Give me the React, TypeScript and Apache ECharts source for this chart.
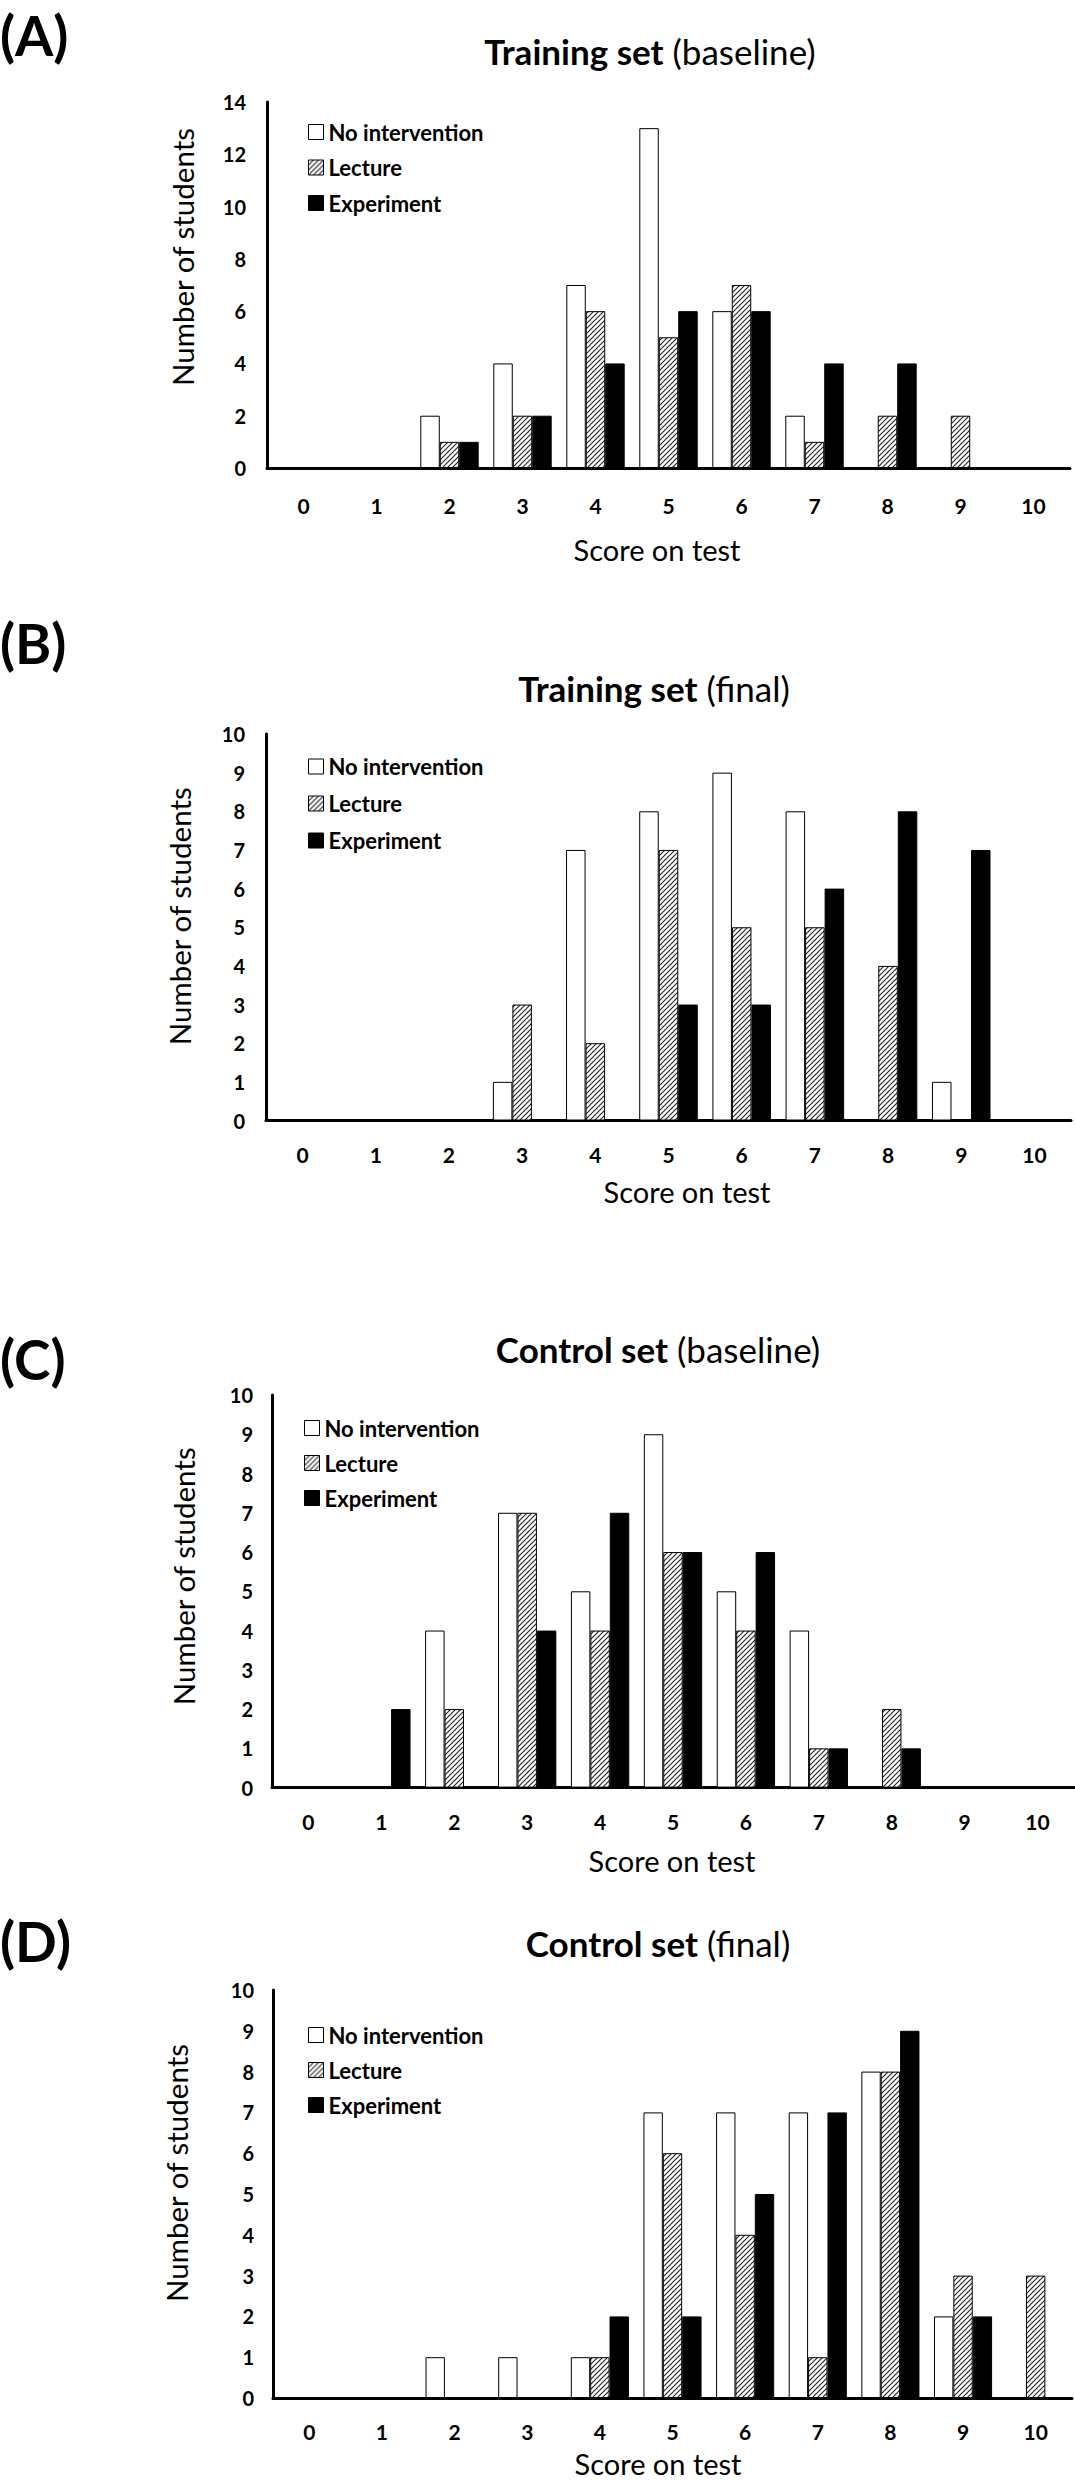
import React, { useEffect, useRef } from "react";
import * as echarts from "echarts";

// ---------- data ----------
const scores = ["0", "1", "2", "3", "4", "5", "6", "7", "8", "9", "10"];
const groupNames = ["No intervention", "Lecture", "Experiment"];

const trainBaseNone = [0, 0, 2, 4, 7, 13, 6, 2, 0, 0, 0];
const trainBaseLecture = [0, 0, 1, 2, 6, 5, 7, 1, 2, 2, 0];
const trainBaseExperiment = [0, 0, 1, 2, 4, 6, 6, 4, 4, 0, 0];

const trainFinalNone = [0, 0, 0, 1, 7, 8, 9, 8, 0, 1, 0];
const trainFinalLecture = [0, 0, 0, 3, 2, 7, 5, 5, 4, 0, 0];
const trainFinalExperiment = [0, 0, 0, 0, 0, 3, 3, 6, 8, 7, 0];

const ctrlBaseNone = [0, 0, 4, 7, 5, 9, 5, 4, 0, 0, 0];
const ctrlBaseLecture = [0, 0, 2, 7, 4, 6, 4, 1, 2, 0, 0];
const ctrlBaseExperiment = [0, 2, 0, 4, 7, 6, 6, 1, 1, 0, 0];

const ctrlFinalNone = [0, 0, 1, 1, 1, 7, 7, 7, 8, 2, 0];
const ctrlFinalLecture = [0, 0, 0, 0, 1, 6, 4, 1, 8, 3, 3];
const ctrlFinalExperiment = [0, 0, 0, 0, 2, 2, 5, 7, 9, 2, 0];

const panelLabels = ["(A)", "(B)", "(C)", "(D)"];
const titleBold = ["Training set", "Training set", "Control set", "Control set"];
const titleNormal = ["(baseline)", "(final)", "(baseline)", "(final)"];
const yMaxValues = [14, 10, 10, 10];
const yIntervals = [2, 1, 1, 1];
const yAxisName = "Number of students";
const xAxisName = "Score on test";

const panelData = [
  [trainBaseNone, trainBaseLecture, trainBaseExperiment],
  [trainFinalNone, trainFinalLecture, trainFinalExperiment],
  [ctrlBaseNone, ctrlBaseLecture, ctrlBaseExperiment],
  [ctrlFinalNone, ctrlFinalLecture, ctrlFinalExperiment],
];

// ---------- layout (pixels) ----------
const layout = [
  { left: 267, top: 102, width: 803, height: 366, labelY: 35, titleX: 650, titleY: 51, legLeft: 308, legTop: 121, legGap: 13.5, yDy: -28, yGap: 70, xDx: -11.5, xGap: 67, xLabMargin: 27, yLabMargin: 21 },
  { left: 266, top: 734, width: 805, height: 386.5, labelY: 643, titleX: 654, titleY: 688, legLeft: 308, legTop: 755.5, legGap: 15, yDy: -11, yGap: 72, xDx: 18.5, xGap: 56, xLabMargin: 23, yLabMargin: 21 },
  { left: 272, top: 1395, width: 802, height: 392.6, labelY: 1359, titleX: 658, titleY: 1349, legLeft: 304, legTop: 1417, legGap: 13, yDy: -15, yGap: 74, xDx: -1, xGap: 58, xLabMargin: 23, yLabMargin: 19 },
  { left: 273, top: 1990, width: 799, height: 408, labelY: 1941, titleX: 658, titleY: 1943, legLeft: 308, legTop: 2024, legGap: 13, yDy: -21, yGap: 82, xDx: -14.5, xGap: 51, xLabMargin: 23, yLabMargin: 19 },
];

const FONT = "Lato";

function makeHatch(): HTMLCanvasElement {
  const s = 5;
  const c = document.createElement("canvas");
  c.width = s;
  c.height = s;
  const ctx = c.getContext("2d")!;
  ctx.fillStyle = "#ffffff";
  ctx.fillRect(0, 0, s, s);
  ctx.strokeStyle = "#222222";
  ctx.lineWidth = 1.1;
  ctx.beginPath();
  ctx.moveTo(0, s);
  ctx.lineTo(s, 0);
  ctx.moveTo(-1, 1);
  ctx.lineTo(1, -1);
  ctx.moveTo(s - 1, s + 1);
  ctx.lineTo(s + 1, s - 1);
  ctx.stroke();
  return c;
}

export default function App() {
  const ref = useRef<HTMLDivElement>(null);

  useEffect(() => {
    if (!ref.current) return;
    const chart = echarts.init(ref.current, undefined, { renderer: "svg" });
    const hatch = makeHatch();
    const fills: any[] = [
      "#ffffff",
      { image: hatch, repeat: "repeat", imageWidth: 5, imageHeight: 5 },
      "#000000",
    ];

    const grids: any[] = [];
    const xAxes: any[] = [];
    const yAxes: any[] = [];
    const series: any[] = [];
    const legends: any[] = [];
    const graphics: any[] = [];

    layout.forEach((L, i) => {
      grids.push({ left: L.left, top: L.top, width: L.width, height: L.height, containLabel: false });
      xAxes.push({
        type: "category",
        gridIndex: i,
        data: scores,
        axisLine: { show: true, lineStyle: { color: "#000", width: 3 } },
        axisTick: { show: false },
        axisLabel: { color: "#000", fontFamily: FONT, fontWeight: "bold", fontSize: 21, lineHeight: 21, margin: L.xLabMargin },
        name: xAxisName,
        nameLocation: "middle",
        nameGap: L.xGap,
        nameTextStyle: {
          color: "#000",
          fontFamily: FONT,
          fontSize: 29,
          lineHeight: 29,
          padding: L.xDx >= 0 ? [0, 0, 0, 2 * L.xDx] : [0, -2 * L.xDx, 0, 0],
        },
      });
      yAxes.push({
        type: "value",
        gridIndex: i,
        min: 0,
        max: yMaxValues[i],
        interval: yIntervals[i],
        splitLine: { show: false },
        axisLine: { show: true, lineStyle: { color: "#000", width: 3 } },
        axisTick: { show: false },
        axisLabel: { color: "#000", fontFamily: FONT, fontWeight: "bold", fontSize: 20, margin: L.yLabMargin },
        name: yAxisName,
        nameLocation: "middle",
        nameGap: L.yGap,
        nameTextStyle: {
          color: "#000",
          fontFamily: FONT,
          fontSize: 29.5,
          lineHeight: 29,
          padding: L.yDy <= 0 ? [0, 0, 0, -2 * L.yDy] : [0, 2 * L.yDy, 0, 0],
        },
      });
      panelData[i].forEach((vals, k) => {
        series.push({
          type: "bar",
          name: groupNames[k],
          xAxisIndex: i,
          yAxisIndex: i,
          data: vals,
          barGap: "0%",
          barCategoryGap: "20%",
          itemStyle: { color: fills[k], borderColor: "#000", borderWidth: 1 },
          emphasis: { disabled: true },
        });
      });
      legends.push({
        data: groupNames,
        orient: "vertical",
        left: L.legLeft,
        top: L.legTop,
        itemWidth: 15,
        itemHeight: 15,
        itemGap: L.legGap,
        icon: "rect",
        selectedMode: false,
        padding: 0,
        itemStyle: { borderColor: "#000", borderWidth: 1 },
        textStyle: { color: "#000", fontFamily: FONT, fontWeight: "bold", fontSize: 22, lineHeight: 22 },
      });
      graphics.push({
        type: "text",
        x: 0,
        y: L.labelY,
        style: {
          text: panelLabels[i],
          fontFamily: FONT,
          fontWeight: "bold",
          fontSize: 55,
          lineHeight: 55,
          fill: "#000",
          align: "left",
          verticalAlign: "middle",
        },
      });
      graphics.push({
        type: "text",
        x: L.titleX,
        y: L.titleY,
        style: {
          text: `{b|${titleBold[i]}} {n|${titleNormal[i]}}`,
          fontFamily: FONT,
          fontSize: 35,
          fill: "#000",
          align: "center",
          verticalAlign: "middle",
          rich: {
            b: { fontFamily: FONT, fontWeight: "bold", fontSize: 35, fill: "#000" },
            n: { fontFamily: FONT, fontWeight: "normal", fontSize: 35, fill: "#000" },
          },
        },
      });
    });

    chart.setOption({
      animation: false,
      backgroundColor: "#ffffff",
      grid: grids,
      xAxis: xAxes,
      yAxis: yAxes,
      series,
      legend: legends,
      graphic: graphics,
      tooltip: { show: false },
    });

    return () => {
      chart.dispose();
    };
  }, []);

  return (
    <div
      ref={ref}
      style={{ position: "absolute", left: 0, top: 0, width: 1075, height: 2481, background: "#fff" }}
    />
  );
}
